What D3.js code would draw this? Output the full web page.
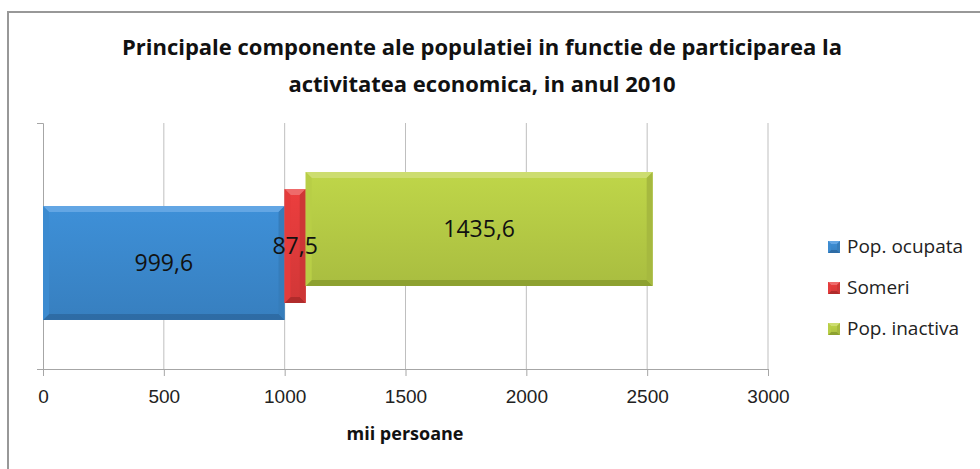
<!doctype html>
<html lang="ro">
<head>
<meta charset="UTF-8">
<title>populatie 2010</title>
<style>
  body { margin: 0; background: #fff; }
  svg { display: block; font-family: "Open Sans", sans-serif; }
  .grid line { stroke: #bfbfbf; stroke-width: 1px; }
  .axis path, .axis line { stroke: #a6a6a6; }
  .axis text { font-size: 19px; fill: #222; }
</style>
</head>
<body>
<svg width="980" height="469"></svg>
<script src="https://d3js.org/d3.v7.min.js"></script>
<script>
  const categories = ['2010']
  const seriesNames = ['Pop. ocupata', 'Someri', 'Pop. inactiva']
  const seriesValues = [999.6, 87.5, 1435.6]
  const valueLabels = ['999,6', '87,5', '1435,6']
  const xTicks = [0, 500, 1000, 1500, 2000, 2500, 3000]
  const titleLines = ['Principale componente ale populatiei in functie de participarea la',
                      'activitatea economica, in anul 2010']
  const axisTitle = 'mii persoane'

  const colors = ['#3a86c9', '#dc3a3a', '#b2c744']
  const light = ['#63a6e4', '#ee6b6b', '#cddd70']
  const dark = ['#2c679e', '#a82828', '#869a2c']

  const svg = d3.select('svg')
  const W = 980, H = 469
  const m = {left: 43, right: 212, top: 123, bottom: 100}
  const depth = 17  // 3d-ish offset between series

  // frame
  svg.append('rect').attr('x', 8).attr('y', 12).attr('width', W + 20).attr('height', H + 20)
    .attr('fill', '#fff').attr('stroke', '#989898').attr('stroke-width', 2)

  const x = d3.scaleLinear().domain([0, 3000]).range([m.left, W - m.right])
  const y = d3.scaleBand().domain(categories).range([H - m.bottom, m.top]).padding(0.367)

  // title
  svg.append('text').attr('text-anchor', 'middle').attr('font-weight', 'bold')
    .attr('font-size', 22).attr('fill', '#111')
    .selectAll('tspan').data(titleLines).join('tspan')
    .attr('x', 482).attr('y', (d, i) => 55 + i * 37).text(d => d)

  // gridlines
  svg.append('g').attr('class', 'grid')
    .selectAll('line').data(xTicks.slice(1)).join('line')
    .attr('x1', d => x(d)).attr('x2', d => x(d))
    .attr('y1', m.top).attr('y2', H - m.bottom)

  // x axis
  const xAxis = svg.append('g').attr('class', 'axis')
    .attr('transform', `translate(0,${H - m.bottom})`)
    .call(d3.axisBottom(x).tickValues(xTicks).tickSize(7).tickPadding(14).tickFormat(d3.format('d')))
  xAxis.select('.domain').attr('d', `M${m.left - 6},0.5H${x(3000)}`)

  // y axis (no labels)
  svg.append('g').attr('class', 'axis')
    .attr('transform', `translate(${m.left},0)`)
    .call(d3.axisLeft(d3.scaleLinear().range([H - m.bottom, m.top])).tickValues([0, 1]).tickSize(6).tickFormat(''))

  svg.append('text').attr('x', 405).attr('y', 440).attr('text-anchor', 'middle')
    .attr('font-weight', 'bold').attr('font-size', 18).attr('fill', '#111').text(axisTitle)

  // stacked bars
  const row = {cat: categories[0]}
  seriesNames.forEach((s, i) => { row[s] = seriesValues[i] })
  const stacked = d3.stack().keys(seriesNames)([row])

  const defs = svg.append('defs')
  colors.forEach((c, i) => {
    const g = defs.append('linearGradient').attr('id', 'g' + i)
      .attr('x1', 0).attr('y1', 0).attr('x2', 0).attr('y2', 1)
    g.append('stop').attr('offset', 0).attr('stop-color', d3.color(c).brighter(0.2))
    g.append('stop').attr('offset', 1).attr('stop-color', d3.color(c).darker(0.15))
  })

  function bevelBar(g, x0, y0, x1, y1, i, b) {
    b = Math.min(b, (x1 - x0) / 2)
    g.append('rect').attr('x', x0).attr('y', y0).attr('width', x1 - x0).attr('height', y1 - y0)
      .attr('fill', `url(#g${i})`)
    g.append('polygon').attr('fill', light[i])
      .attr('points', [[x0, y0], [x1, y0], [x1 - b, y0 + b], [x0 + b, y0 + b]].join(' '))
    g.append('polygon').attr('fill', dark[i]).attr('opacity', 0.8)
      .attr('points', [[x0, y1], [x1, y1], [x1 - b, y1 - b], [x0 + b, y1 - b]].join(' '))
    g.append('polygon').attr('fill', d3.color(colors[i]).brighter(0.1))
      .attr('points', [[x0, y0], [x0 + b, y0 + b], [x0 + b, y1 - b], [x0, y1]].join(' '))
    g.append('polygon').attr('fill', d3.color(colors[i]).darker(0.2))
      .attr('points', [[x1, y0], [x1 - b, y0 + b], [x1 - b, y1 - b], [x1, y1]].join(' '))
  }

  const bars = svg.append('g')
  stacked.forEach((s, i) => {
    const d = s[0]
    const off = (1 - i) * depth
    const y0 = y(d.data.cat) + off, y1 = y0 + y.bandwidth()
    bevelBar(bars.append('g'), x(d[0]), y0, x(d[1]), y1, i, 6)
  })

  // data labels
  svg.append('g').selectAll('text').data(stacked).join('text')
    .attr('x', s => (x(s[0][0]) + x(s[0][1])) / 2)
    .attr('y', (s, i) => y(s[0].data.cat) + (1 - i) * depth + y.bandwidth() / 2)
    .attr('dy', '0.36em').attr('text-anchor', 'middle')
    .attr('font-size', 23).attr('fill', '#111')
    .text((s, i) => valueLabels[i])

  // legend
  const leg = svg.append('g').attr('transform', 'translate(828,241)')
  const li = leg.selectAll('g').data(seriesNames).join('g')
    .attr('transform', (d, i) => `translate(0,${i * 41})`)
  li.each(function (d, i) { bevelBar(d3.select(this), 0, 0, 12, 12, i, 3) })
  li.append('text').attr('x', 19).attr('y', 12).attr('font-size', 19).attr('fill', '#222').text(d => d)
</script>
</body>
</html>
